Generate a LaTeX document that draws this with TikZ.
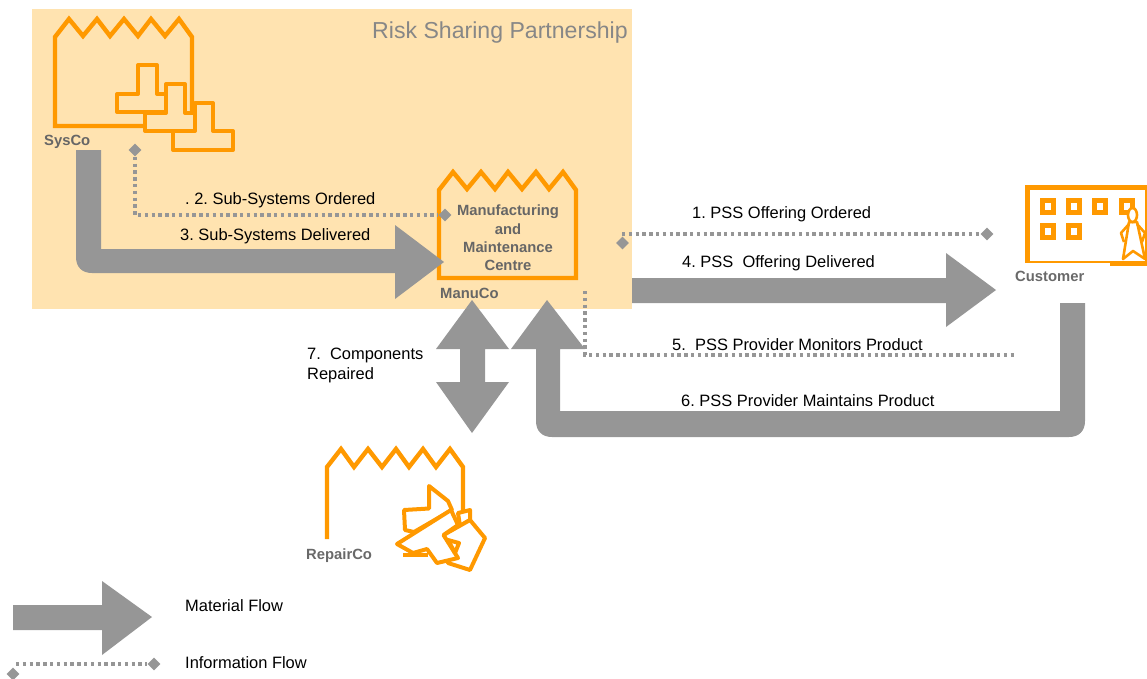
\documentclass[tikz,border=0pt]{standalone}
\usepackage{fontspec}
\setmainfont{Liberation Sans}
\usetikzlibrary{shapes.geometric}
\frenchspacing
\definecolor{bgo}{HTML}{FFE3B0}
\definecolor{org}{HTML}{FF9900}
\definecolor{flow}{HTML}{969696}
\definecolor{lab}{HTML}{666666}
\tikzset{
  x=1pt,y=-1pt,
  band/.style={fill=flow,draw=none},
  plant/.style={draw=org,line width=4.4pt,line join=miter,line cap=butt},
  part/.style={draw=org,line width=4pt,line join=round,fill=bgo},
  shard/.style={draw=org,line width=4pt,line join=round,fill=white},
  dotline/.style={draw=flow,line width=3.6pt,dash pattern=on 3.4pt off 3.4pt},
  dia/.style={diamond,fill=flow,draw=none,inner sep=0pt,minimum size=13pt},
  txt/.style={anchor=west,inner sep=0pt,font=\fontsize{16.45}{16.45}\selectfont,text=black},
  co/.style={anchor=west,inner sep=0pt,font=\fontsize{14.8}{14.8}\selectfont\bfseries,text=lab},
}
\begin{document}
\begin{tikzpicture}
\useasboundingbox (0,0) rectangle (1147,678);
\fill[bgo] (32,9) rectangle (632,309);

% SysCo plant and parts
\draw[plant] (145,126) -- (55,126) -- (55,37) -- (69,19) -- (83,36) -- (97,19) -- (110,36) -- (124,19) -- (138,36) -- (151,19) -- (165,36) -- (179,19) -- (192,37) -- (192,114);
\draw[part] (117,94) -- (138,94) -- (138,65) -- (157,65) -- (157,94) -- (177,94) -- (177,112) -- (117,112) -- cycle;
\draw[part] (145,113) -- (166,113) -- (166,84) -- (185,84) -- (185,113) -- (205,113) -- (205,131) -- (145,131) -- cycle;
\draw[part] (173,131) -- (195,131) -- (195,103) -- (213,103) -- (213,131) -- (233,131) -- (233,150) -- (173,150) -- cycle;

% ManuCo plant
\draw[plant] (439,278) -- (439,190) -- (453,172) -- (467,189) -- (481,172) -- (495,189) -- (508,172) -- (522,189) -- (536,172) -- (549,189) -- (563,172) -- (576,190) -- (576,278) -- cycle;

% RepairCo plant and damaged parts
\draw[plant] (327,539) -- (327,467) -- (341,449) -- (354,467) -- (368,449) -- (382,467) -- (396,449) -- (409,467) -- (423,449) -- (436,467) -- (450,449) -- (463,467) -- (463,512);
\draw[plant] (403,555) -- (428,555);
\draw[shard] (404,510) -- (429,508.5) -- (429,486) -- (448,501) -- (452,510) -- (414,532) -- (405,530) -- cycle;
\draw[shard] (458,513) -- (470,510) -- (470,520) -- (460,526) -- cycle;
\draw[shard] (443.5,535) -- (470,520) -- (485,538) -- (470,570) -- (448,563) -- cycle;
\draw[shard] (397,544) -- (451,510) -- (458,525) -- (443.5,535) -- (458,558) -- (437,563) -- (427,549) -- (413,553) -- cycle;
\draw[shard] (448,540) -- (459,543) -- (455,553) -- cycle;

% Customer building
\fill[org] (1025,185) rectangle (1147,190);
\fill[org] (1025,185) rectangle (1030,263);
\fill[org] (1025,261) rectangle (1147,263);
\fill[org] (1110,263) rectangle (1147,266);
\fill[org] (1145,185) rectangle (1147,263);
\foreach \wx/\wy [count=\wi] in {1040/198,1066/198,1092/198,1119/198,1040/223,1066/223}
  \draw[org,line width=5.5pt] (\wx+2.7,\wy+2.7) rectangle (\wx+13.5,\wy+14.5);
\draw[org,line width=2.6pt,fill=white,line join=round] (1129,222) -- (1123,259) -- (1133,251) -- (1145,259) -- (1137,222) -- cycle;
\draw[org,line width=2.6pt,line join=round] (1129,224) -- (1121,233) -- (1124,242);
\draw[org,line width=2.6pt,line join=round] (1137,224) -- (1145,233) -- (1142,242);
\draw[org,line width=2.6pt,fill=white] (1132.5,215) ellipse [x radius=4.5,y radius=7];

% Material flows
\path[band,rounded corners=0pt] (76,150) -- (101,150) -- (101,249) -- (395,249) -- (395,225) -- (444,262) -- (395,299) -- (395,273) -- (92,273) .. controls (82,273) and (76,267) .. (76,257) -- cycle;
\path[band] (632,278) -- (946,278) -- (946,253) -- (996,290) -- (946,327) -- (946,303) -- (632,303) -- cycle;
\path[band] (472,300) -- (509,349) -- (485,349) -- (485,382) -- (509,382) -- (472,433) -- (436,382) -- (460,382) -- (460,349) -- (436,349) -- cycle;
\path[band] (547,300) -- (585,349) -- (560,349) -- (560,411) -- (1060,411) -- (1060,303) -- (1085,303) -- (1085,421) .. controls (1085,431) and (1079,437) .. (1069,437) -- (552,437) .. controls (542,437) and (536,431) .. (536,421) -- (536,349) -- (511,349) -- cycle;
\path[band] (13,605) -- (102,605) -- (102,581) -- (152,617) -- (102,655) -- (102,630) -- (13,630) -- cycle;

% Information flows
\node[dia] (sysInfo) at (135,150) {};
\node[dia] (manuInfo) at (445,215) {};
\coordinate (ordStart) at (622,234);
\node[dia] (ordMark) at (622.5,243) {};
\node[dia] (custInfo) at (987,234) {};
\coordinate (monStart) at (585,291);
\coordinate (monEnd) at (1017,355);
\coordinate (legStart) at (16,664);
\node[dia] (legEnd) at (154,664) {};
\node[dia] (legMark) at (13,674) {};
\draw[dotline] (sysInfo) |- (manuInfo);
\draw[dotline] (ordStart) -- (custInfo);
\draw[dotline] (monStart) |- (monEnd);
\draw[dotline] (legStart) -- (legEnd);

% Texts
\node[anchor=west,inner sep=0pt,font=\fontsize{23.1}{23.1}\selectfont,text=flow!90!black] (rsp) at (372,32.5) {Risk Sharing Partnership};
\node[co] (sysco) at (44,141.5) {SysCo};
\node[co] (manuco) at (440,293) {ManuCo};
\node[co,text=flow!70!black] (repairco) at (306,555.5) {RepairCo};
\node[co,text=flow!70!black] (customer) at (1015,276) {Customer};
\node[co,anchor=center] (m1) at (508,212) {Manufacturing};
\node[co,anchor=center] (m2) at (508,229) {and};
\node[co,anchor=center] (m3) at (508,247) {Maintenance};
\node[co,anchor=center] (m4) at (508,265) {Centre};
\node[txt] (t2) at (185,200.5) {. 2. Sub-Systems Ordered};
\node[txt] (t3) at (180,236.5) {3. Sub-Systems Delivered};
\node[txt] (t1) at (692,214.5) {1. PSS Offering Ordered};
\node[txt] (t4) at (682,263.5) {4. PSS\ \ Offering Delivered};
\node[txt] (t5) at (672,345) {5.\ \ PSS Provider Monitors Product};
\node[txt] (t6) at (681,401) {6. PSS Provider Maintains Product};
\node[txt] (t7a) at (307,355) {7.\ \ Components};
\node[txt] (t7b) at (307,375) {Repaired};
\node[txt] (lm) at (185,606) {Material Flow};
\node[txt] (li) at (185,663) {Information Flow};
\end{tikzpicture}
\end{document}
